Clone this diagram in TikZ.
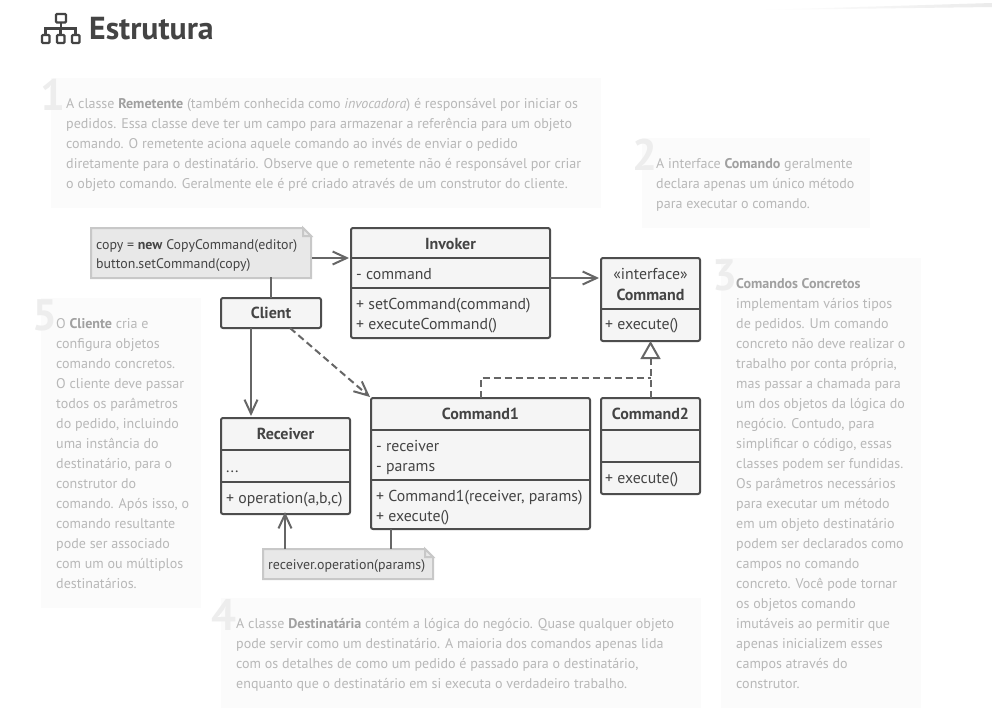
\documentclass[tikz,border=0pt]{standalone}
\usepackage{fontspec}
\setmainfont{PT Sans}
\usetikzlibrary{arrows.meta,calc}
\definecolor{ink}{HTML}{444444}
\definecolor{edge}{HTML}{4D4D4D}
\definecolor{wire}{HTML}{666666}
\definecolor{boxfill}{HTML}{F5F5F5}
\definecolor{notefill}{HTML}{E8E8E8}
\definecolor{noteedge}{HTML}{C8C8C8}
\definecolor{panel}{HTML}{FBFBFB}
\definecolor{panelink}{HTML}{B8B8B8}
\definecolor{panelbold}{HTML}{A0A0A0}
\definecolor{bignum}{HTML}{EDEDED}
\tikzset{
  x=1pt,y=-1pt,
  umlbox/.style={draw=edge,fill=boxfill,line width=2pt,rounded corners=2pt,inner sep=0pt,outer sep=0pt},
  sep/.style={draw=edge,line width=2pt},
  difftext/.style={text=ink,font=\fontsize{15.8}{18}\selectfont,inner sep=0pt,anchor=base west},
  title/.style={text=ink,font=\fontsize{16}{18}\selectfont\bfseries,inner sep=0pt,anchor=base},
  notetext/.style={text=ink,font=\fontsize{13.9}{16}\selectfont,inner sep=0pt,anchor=base west},
  paneltext/.style={text=panelink,font=\fontsize{14.05}{16}\selectfont,inner sep=0pt,anchor=base west},
  bignumber/.style={text=bignum,font=\fontsize{44}{44}\selectfont\bfseries,inner sep=0pt,anchor=base west},
  wireline/.style={draw=wire,line width=2pt},
  openarrow/.style={wireline,-{Straight Barb[length=14pt,width=13pt,line width=2pt]}},
  dashwire/.style={wireline,dash pattern=on 7pt off 4pt},
  dasharrow/.style={dashwire,-{Straight Barb[length=14pt,width=13pt,line width=2pt]}},
  notefig/.style={draw=noteedge,fill=notefill,line width=2pt},
}
\newcommand{\pb}[1]{{\bfseries\color{panelbold}#1}}
\begin{document}
\begin{tikzpicture}
\useasboundingbox (0,0) rectangle (992,713);
\fill[white] (0,0) rectangle (992,713);
% top right sliver
\shade[left color=white,right color=black!8,draw=none] (760,10) -- (992,3) -- (992,7) -- cycle;
% heading icon
\begin{scope}[draw=ink,line width=2.4pt]
\draw[rounded corners=1pt] (56,14) rectangle (66,22.5);
\draw (61,22.5) -- (61,28.5) (45.5,34) -- (45.5,28.5) -- (75.5,28.5) -- (75.5,34) (60.5,28.5) -- (60.5,34);
\draw[rounded corners=1pt] (42,35) rectangle (49.5,43);
\draw[rounded corners=1pt] (57,35) rectangle (64.5,43);
\draw[rounded corners=1pt] (72,35) rectangle (79.5,43);
\end{scope}
\node[text=ink,font=\fontsize{31.8}{32}\selectfont\bfseries,inner sep=0pt,anchor=base west] (heading) at (89,39) {Estrutura};
% panels
\fill[panel] (51,78) rectangle (601,208);
\fill[panel] (642,138) rectangle (870,228);
\fill[panel] (721,258) rectangle (921,708);
\fill[panel] (221,598) rectangle (701,708);
\fill[panel] (41,298) rectangle (201,608);
\node[bignumber] (n1) at (40,110) {1};
\node[bignumber] (n2) at (632,170) {2};
\node[bignumber] (n3) at (712,290) {3};
\node[bignumber] (n4) at (211,630) {4};
\node[bignumber] (n5) at (32,330) {5};
% panel 1
\foreach \yy/\tt in {108/{A classe \pb{Remetente} (também conhecida como \textit{invocadora}) é responsável por iniciar os},
128/{pedidos. Essa classe deve ter um campo para armazenar a referência para um objeto},
148/{comando. O remetente aciona aquele comando ao invés de enviar o pedido},
168/{diretamente para o destinatário. Observe que o remetente não é responsável por criar},
188/{o objeto comando. Geralmente ele é pré criado através de um construtor do cliente.}}
  \node[paneltext] at (66,\yy) {\tt};
% panel 2
\foreach \yy/\tt in {168/{A interface \pb{Comando} geralmente},188/{declara apenas um único método},208/{para executar o comando.}}
  \node[paneltext] at (656,\yy) {\tt};
% panel 3
\foreach \yy/\tt in {288/{\pb{Comandos Concretos}},308/{implementam vários tipos},328/{de pedidos. Um comando},348/{concreto não deve realizar o},368/{trabalho por conta própria,},388/{mas passar a chamada para},408/{um dos objetos da lógica do},428/{negócio. Contudo, para},448/{simplificar o código, essas},468/{classes podem ser fundidas.},488/{Os parâmetros necessários},508/{para executar um método},528/{em um objeto destinatário},548/{podem ser declarados como},568/{campos no comando},588/{concreto. Você pode tornar},608/{os objetos comando},628/{imutáveis ao permitir que},648/{apenas inicializem esses},668/{campos através do},688/{construtor.}}
  \node[paneltext] at (736,\yy) {\tt};
% panel 4
\foreach \yy/\tt in {628/{A classe \pb{Destinatária} contém a lógica do negócio. Quase qualquer objeto},648/{pode servir como um destinatário. A maioria dos comandos apenas lida},668/{com os detalhes de como um pedido é passado para o destinatário,},688/{enquanto que o destinatário em si executa o verdadeiro trabalho.}}
  \node[paneltext] at (236,\yy) {\tt};
% panel 5
\foreach \yy/\tt in {328/{O \pb{Cliente} cria e},348/{configura objetos},368/{comando concretos.},388/{O cliente deve passar},408/{todos os parâmetros},428/{do pedido, incluindo},448/{uma instância do},468/{destinatário, para o},488/{construtor do},508/{comando. Após isso, o},528/{comando resultante},548/{pode ser associado},568/{com um ou múltiplos},588/{destinatários.}}
  \node[paneltext] at (56,\yy) {\tt};
% boxes
\node[umlbox,minimum width=199pt,minimum height=110pt] (invoker) at (450.5,283) {};
\node[umlbox,minimum width=99pt,minimum height=83pt] (command) at (650.5,299.5) {};
\node[umlbox,minimum width=219pt,minimum height=131pt] (cmdone) at (480.5,463.5) {};
\node[umlbox,minimum width=99pt,minimum height=96pt] (cmdtwo) at (650.5,446) {};
\node[umlbox,minimum width=129pt,minimum height=96pt] (receiver) at (285.5,466) {};
\node[umlbox,minimum width=100pt,minimum height=30pt] (client) at (271,313) {};
% separators
\draw[sep] ([yshift=-30pt]invoker.north west) -- ([yshift=-30pt]invoker.north east);
\draw[sep] ([yshift=-60pt]invoker.north west) -- ([yshift=-60pt]invoker.north east);
\draw[sep] ([yshift=-51pt]command.north west) -- ([yshift=-51pt]command.north east);
\draw[sep] ([yshift=-32pt]cmdone.north west) -- ([yshift=-32pt]cmdone.north east);
\draw[sep] ([yshift=-82pt]cmdone.north west) -- ([yshift=-82pt]cmdone.north east);
\draw[sep] ([yshift=-32pt]cmdtwo.north west) -- ([yshift=-32pt]cmdtwo.north east);
\draw[sep] ([yshift=-64pt]cmdtwo.north west) -- ([yshift=-64pt]cmdtwo.north east);
\draw[sep] ([yshift=-32pt]receiver.north west) -- ([yshift=-32pt]receiver.north east);
\draw[sep] ([yshift=-64pt]receiver.north west) -- ([yshift=-64pt]receiver.north east);
% notes
\node[inner sep=0pt,outer sep=0pt,minimum width=220pt,minimum height=50pt] (noteone) at (201,253) {};
\node[inner sep=0pt,outer sep=0pt,minimum width=170pt,minimum height=30pt] (notetwo) at (348,564) {};
\draw[notefig] (noteone.north west) -- ([xshift=-8pt]noteone.north east) -- ([yshift=-8pt]noteone.north east) -- (noteone.south east) -- (noteone.south west) -- cycle;
\draw[notefig,fill=white!60!noteedge] ([xshift=-8pt]noteone.north east) -- ([xshift=-8pt,yshift=-8pt]noteone.north east) -- ([yshift=-8pt]noteone.north east) -- cycle;
\draw[notefig] (notetwo.north west) -- ([xshift=-8pt]notetwo.north east) -- ([yshift=-8pt]notetwo.north east) -- (notetwo.south east) -- (notetwo.south west) -- cycle;
\draw[notefig,fill=white!60!noteedge] ([xshift=-8pt]notetwo.north east) -- ([xshift=-8pt,yshift=-8pt]notetwo.north east) -- ([yshift=-8pt]notetwo.north east) -- cycle;
% box text
\node[title] at (450.5,249) {Invoker};
\node[difftext] at (356,279) {- command};
\node[difftext] at (356,309) {+ setCommand(command)};
\node[difftext] at (356,329) {+ executeCommand()};
\node[text=ink,font=\fontsize{15.8}{18}\selectfont,inner sep=0pt,anchor=base] at (650.5,279) {«interface»};
\node[title] at (650.5,300) {Command};
\node[difftext] at (605,329) {+ execute()};
\node[title] (cmdtitle) at (480.5,419) {Command1};
\node[difftext] at (376,451) {- receiver};
\node[difftext] at (376,471) {- params};
\node[difftext] at (376,501) {+ Command1(receiver, params)};
\node[difftext] at (376,521) {+ execute()};
\node[title] at (650.5,419) {Command2};
\node[difftext] at (605,483) {+ execute()};
\node[title] at (285.5,439) {Receiver};
\node[difftext] at (226,472) {...};
\node[difftext] at (226,503) {+ operation(a,b,c)};
\node[title] at (271,318) {Client};
\node[notetext] at (96,249) {copy = \textbf{new} CopyCommand(editor)};
\node[notetext] at (96,268) {button.setCommand(copy)};
\node[notetext] at (268,569) {receiver.operation(params)};
% connectors
\draw[openarrow] (noteone.east |- invoker.north west) ++(1pt,-30pt) -- ([xshift=-2pt,yshift=-30pt]invoker.north west);
\draw[wireline] (noteone.south) ++(70pt,1pt) -- (client.north);
\draw[openarrow] ([xshift=30pt]client.south west) -- ([xshift=30pt,yshift=2pt]client.south west |- receiver.north);
\draw[dasharrow] ([xshift=-31pt]client.south east) -- ([xshift=-1pt,yshift=1pt]cmdone.north west);
\draw[openarrow] ([yshift=-50pt]invoker.north east) -- ([xshift=-2pt,yshift=-20pt]command.north west);
\coordinate (bend) at (cmdone.north |- 650,378);
\draw[dashwire] (cmdone.north) -- (bend) -- (bend -| cmdtwo.north);
\draw[dashwire] (cmdtwo.north) -- (650.5,358);
\draw[draw=wire,fill=white,line width=2pt,line join=miter] (650.5,343) -- (659,358) -- (642,358) -- cycle;
\draw[openarrow] ([xshift=-63pt]notetwo.north) -- ([xshift=-0.5pt,yshift=2pt]receiver.south);
\draw[wireline] ([xshift=20pt]cmdone.south west) -- ([xshift=20pt]cmdone.south west |- notetwo.north);
\end{tikzpicture}
\end{document}
